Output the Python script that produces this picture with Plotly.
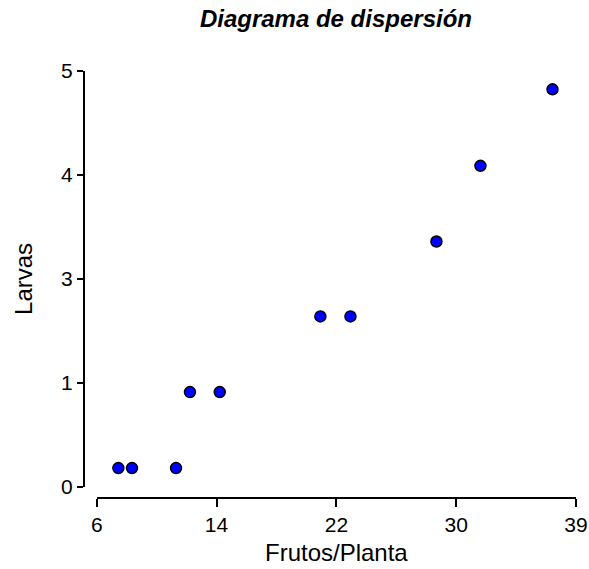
import plotly.graph_objects as go

# Data
frutos = [7.49, 8.43, 11.46, 12.42, 14.47, 21.40, 23.47, 29.39, 32.42, 37.38]
larvas = [0.226, 0.226, 0.226, 1.14, 1.14, 2.05, 2.05, 2.95, 3.86, 4.78]

x_tickvals = [6, 14.25, 22.5, 30.75, 39]
x_ticktext = ["6", "14", "22", "30", "39"]
y_tickvals = [0, 1.25, 2.5, 3.75, 5]
y_ticktext = ["0", "1", "3", "4", "5"]

FONT = "Liberation Sans, Arial, sans-serif"

fig = go.Figure()
fig.add_trace(go.Scatter(
    x=frutos, y=larvas, mode="markers",
    marker=dict(size=11, color="#0000FF", line=dict(color="black", width=1.5)),
    showlegend=False, cliponaxis=False,
))

fig.update_layout(
    width=589, height=569,
    margin=dict(l=84, r=12, t=71, b=71),
    paper_bgcolor="white", plot_bgcolor="white",
    font=dict(family=FONT, color="black"),
    title=dict(
        text="<b><i>Diagrama de dispersión</i></b>",
        font=dict(family=FONT, size=24, color="black"),
        xref="paper", x=0.511, xanchor="center",
        yref="container", y=1 - 19 / 569, yanchor="middle",
    ),
    xaxis=dict(
        domain=[0.0258, 0.998], range=[6, 39],
        anchor="free", position=0, automargin=False,
        showgrid=False, zeroline=False,
        showline=True, linecolor="black", linewidth=2,
        ticks="outside", ticklen=8, tickwidth=2, tickcolor="black",
        tickvals=x_tickvals, ticktext=x_ticktext,
        ticklabeloverflow="allow",
        tickfont=dict(family=FONT, size=21, color="black"),
        title=dict(text="Frutos/Planta", font=dict(family=FONT, size=24, color="black"), standoff=8),
    ),
    yaxis=dict(
        domain=[0.026, 1.0], range=[0, 5],
        anchor="free", position=0, automargin=False,
        showgrid=False, zeroline=False,
        showline=True, linecolor="black", linewidth=2,
        ticks="outside", ticklen=6, tickwidth=2, tickcolor="black",
        tickvals=y_tickvals, ticktext=y_ticktext,
        tickfont=dict(family=FONT, size=21, color="black"),
        title=dict(text="Larvas", font=dict(family=FONT, size=24, color="black"), standoff=21),
    ),
)

fig.write_html("out.html")
